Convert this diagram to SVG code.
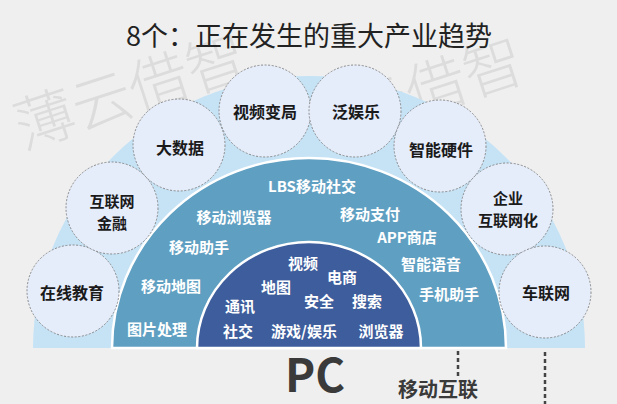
<svg xmlns="http://www.w3.org/2000/svg" width="617" height="404" viewBox="0 0 617 404">
<style>
.wm{font-family:"Noto Sans CJK SC","Noto Sans",sans-serif;font-size:60px;font-weight:300;fill:#dcdcdc}
.title{font-family:"Noto Sans CJK SC","Noto Sans",sans-serif;font-size:27px;fill:#222;text-anchor:middle}
.bubble{fill:#e5ecfa;stroke:#8a8a8a;stroke-width:1;stroke-dasharray:2 1.6}
.bl{font-family:"Noto Sans CJK SC","Noto Sans",sans-serif;font-size:16px;font-weight:bold;fill:#1a1a1a;text-anchor:middle}
.bl2{font-family:"Noto Sans CJK SC","Noto Sans",sans-serif;font-size:15px;font-weight:bold;fill:#1a1a1a;text-anchor:middle}
.wl{font-family:"Noto Sans CJK SC","Noto Sans",sans-serif;font-size:15px;font-weight:bold;fill:#ffffff;text-anchor:middle}
.era{font-family:"Noto Sans CJK SC","Noto Sans",sans-serif;font-weight:bold;fill:#3a3a3a;text-anchor:middle}
.dash{stroke:#444;stroke-width:2.5;stroke-dasharray:4 3;fill:none}
</style>
<rect width="617" height="404" fill="#efefef"/>
<g id="watermark">
<text class="wm" transform="translate(45,120) rotate(-18)" x="-30" y="21">薄云借智</text>
<text class="wm" transform="translate(322,124) rotate(-18)" x="-30" y="21">薄云借智</text>
</g>
<text class="title" x="309" y="46">8个：正在发生的重大产业趋势</text>
<g id="layer-outer">
<path d="M33 348 A276 272 0 0 1 585 348 Z" fill="#c6e3f6"/>
</g>
<g id="layer-mobile">
<path d="M112 348 A197 190 0 0 1 506 348 Z" fill="#5f9fc2" stroke="#ffffff" stroke-width="2.5"/>
<text class="wl" x="312" y="192">LBS移动社交</text>
<text class="wl" x="234" y="223">移动浏览器</text>
<text class="wl" x="370" y="220">移动支付</text>
<text class="wl" x="199" y="253">移动助手</text>
<text class="wl" x="407" y="243">APP商店</text>
<text class="wl" x="431" y="270">智能语音</text>
<text class="wl" x="171" y="292">移动地图</text>
<text class="wl" x="449" y="300">手机助手</text>
<text class="wl" x="157" y="335">图片处理</text>
</g>
<g id="layer-pc">
<path d="M197 348 A112 106 0 0 1 421 348 Z" fill="#3d5d9c" stroke="#ffffff" stroke-width="2.5"/>
<text class="wl" x="303" y="269">视频</text>
<text class="wl" x="342" y="283">电商</text>
<text class="wl" x="276" y="293">地图</text>
<text class="wl" x="240" y="312">通讯</text>
<text class="wl" x="319" y="307">安全</text>
<text class="wl" x="367" y="307">搜索</text>
<text class="wl" x="238" y="337">社交</text>
<text class="wl" x="304" y="337">游戏/娱乐</text>
<text class="wl" x="381" y="337">浏览器</text>
</g>
<g id="node-zaixianjiaoyu"><circle class="bubble" cx="73" cy="291" r="46"/><text class="bl" x="72" y="299">在线教育</text></g>
<g id="node-hulianwangjinrong"><circle class="bubble" cx="112" cy="208" r="46"/><text class="bl2" x="112" y="207">互联网</text><text class="bl2" x="112" y="229">金融</text></g>
<g id="node-dashuju"><circle class="bubble" cx="179" cy="145" r="46"/><text class="bl" x="180" y="154">大数据</text></g>
<g id="node-shipinbianju"><circle class="bubble" cx="265" cy="111" r="46"/><text class="bl" x="265" y="118">视频变局</text></g>
<g id="node-fanyule"><circle class="bubble" cx="355" cy="111" r="46"/><text class="bl" x="356" y="118">泛娱乐</text></g>
<g id="node-zhinengyingjian"><circle class="bubble" cx="440" cy="146" r="46"/><text class="bl" x="441" y="156">智能硬件</text></g>
<g id="node-qiyehulianwanghua"><circle class="bubble" cx="507" cy="209" r="46"/><text class="bl2" x="508" y="204">企业</text><text class="bl2" x="508" y="226">互联网化</text></g>
<g id="node-chelianwang"><circle class="bubble" cx="545" cy="292" r="46"/><text class="bl" x="546" y="299">车联网</text></g>
<g id="connectors">
<line class="dash" x1="458" y1="351" x2="458" y2="376"/>
<line class="dash" x1="545" y1="352" x2="545" y2="404"/>
</g>
<g id="era-labels">
<text class="era" x="315" y="392" font-size="46" font-family="'Liberation Sans',Arial,sans-serif" textLength="60" lengthAdjust="spacingAndGlyphs">PC</text>
<text class="era" x="438" y="397" font-size="20">移动互联</text>
</g>
</svg>
